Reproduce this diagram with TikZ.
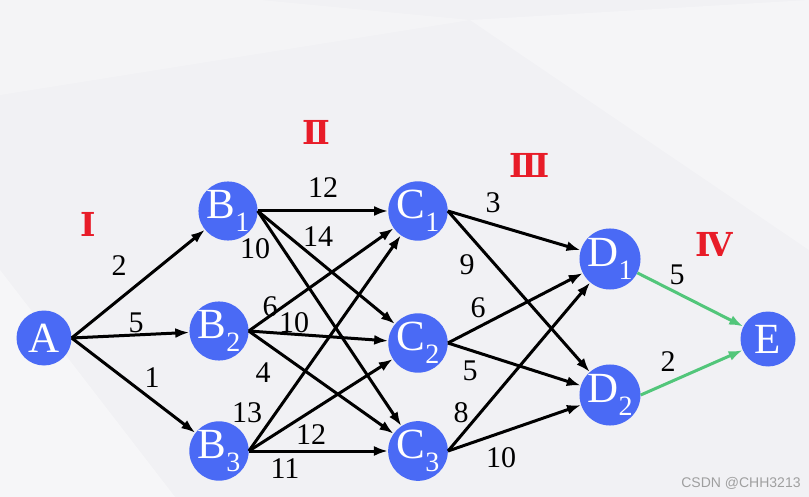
\documentclass[tikz,border=0pt]{standalone}
\usepackage{fontspec}
\setmainfont{Liberation Serif}
\newfontfamily\wmfont{Liberation Sans}
\newfontfamily\romfont{DejaVu Serif}
\usetikzlibrary{arrows.meta}
\definecolor{nodeblue}{RGB}{74,106,245}
\definecolor{stagered}{RGB}{232,28,40}
\definecolor{edgegreen}{RGB}{82,198,122}
\definecolor{bggray}{RGB}{241,241,244}
% lowered index on the stage letters
\newcommand{\idx}[1]{\raisebox{-0.3em}{\fontsize{28}{28}\selectfont #1}}

\begin{document}
\begin{tikzpicture}[x=1pt,y=-1pt,
    stage/.style={circle,fill=nodeblue,text=white,minimum size=55pt,inner sep=0pt,
        font=\fontsize{43}{43}\selectfont},
    wt/.style={font=\fontsize{30}{30}\selectfont,inner sep=0pt},
    phase/.style={text=stagered,font=\romfont\bfseries\fontsize{33}{33}\selectfont,inner sep=0pt},
    arc/.style={-{Latex[length=14pt,width=10pt]},line width=3pt},
    garc/.style={arc,draw=edgegreen}]
% background
\fill[bggray] (0,0) rectangle (809,497);
\fill[white,opacity=0.4] (0,270) -- (175,497) -- (0,497) -- cycle;
\fill[white,opacity=0.3] (470,20) -- (809,0) -- (809,250) -- cycle;
\fill[white,opacity=0.25] (0,95) -- (470,20) -- (260,0) -- (0,0) -- cycle;
\useasboundingbox (0,0) rectangle (809,497);

% stages
\node[stage] (A) at (44,338) {A};
\node[stage] (B1) at (228,211) {B\idx{1}};
\node[stage] (B2) at (219,331) {B\idx{2}};
\node[stage] (B3) at (219,451) {B\idx{3}};
\node[stage] (C1) at (418,211) {C\idx{1}};
\node[stage] (C2) at (418,343) {C\idx{2}};
\node[stage] (C3) at (418,451) {C\idx{3}};
\node[stage] (D1) at (610,259) {D\idx{1}};
\node[stage] (D2) at (610,395) {D\idx{2}};
\node[stage] (E) at (768,339) {E};

\node[phase] (p1) at (88,224) {Ⅰ};
\node[phase] (p2) at (316,132) {Ⅱ};
\node[phase] (p3) at (530,165) {Ⅲ};
\node[phase] (p4) at (714,244) {Ⅳ};

% A -> B
\draw[arc] (A.east) -- (B1);
\draw[arc] (A.east) -- (B2);
\draw[arc] (A.east) -- (B3);
% B -> C
\draw[arc] (B1.east) -- (C1);
\draw[arc] (B1.east) -- (C2);
\draw[arc] (B1.east) -- (C3);
\draw[arc] (B2.east) -- (C1);
\draw[arc] (B2.east) -- (C2);
\draw[arc] (B2.east) -- (C3);
\draw[arc] (B3.east) -- (C1);
\draw[arc] (B3.east) -- (C2);
\draw[arc] (B3.east) -- (C3);
% C -> D
\draw[arc] (C1.east) -- (D1);
\draw[arc] (C1.east) -- (D2);
\draw[arc] (C2.east) -- (D1);
\draw[arc] (C2.east) -- (D2);
\draw[arc] (C3.east) -- (D1);
\draw[arc] (C3.east) -- (D2);
% D -> E
\draw[garc] (D1) -- (E);
\draw[garc] (D2.east) -- (E);

% weights
\node[wt] (wAB1) at (119,266) {2};
\node[wt] (wAB2) at (136,323) {5};
\node[wt] (wAB3) at (152,378) {1};
\node[wt] (wB1C1) at (323,188) {12};
\node[wt] (wB1C2) at (318,237) {14};
\node[wt] (wB1C3) at (255,249) {10};
\node[wt] (wB2C1) at (270,307) {6};
\node[wt] (wB2C2) at (294,323) {10};
\node[wt] (wB2C3) at (263,373) {4};
\node[wt] (wB3C1) at (247,413) {13};
\node[wt] (wB3C2) at (311,435) {12};
\node[wt] (wB3C3) at (285,469) {11};
\node[wt] (wC1D1) at (493,203) {3};
\node[wt] (wC1D2) at (467,265) {9};
\node[wt] (wC2D1) at (478,308) {6};
\node[wt] (wC2D2) at (470,371) {5};
\node[wt] (wC3D1) at (461,413) {8};
\node[wt] (wC3D2) at (501,458) {10};
\node[wt] (wD1E) at (677,275) {5};
\node[wt] (wD2E) at (668,362) {2};

\node[font=\wmfont\fontsize{14}{14}\selectfont,text=gray!75,inner sep=0pt] (wm) at (741,483) {CSDN @CHH3213};
\end{tikzpicture}
\end{document}
